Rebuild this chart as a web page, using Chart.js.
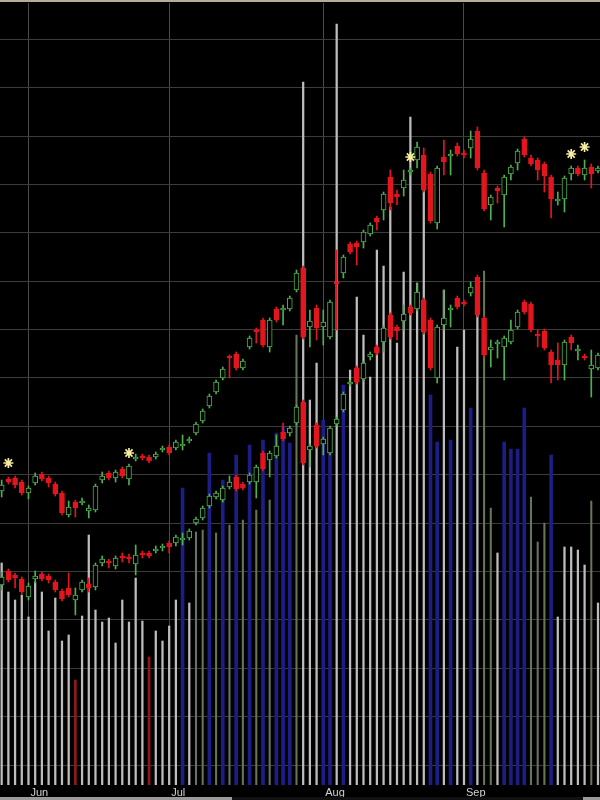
<!DOCTYPE html>
<html><head><meta charset="utf-8">
<script src="https://cdn.jsdelivr.net/npm/chart.js@4/dist/chart.umd.min.js"></script>
<style>
html,body{margin:0;padding:0;background:#000;}
#wrap{position:relative;width:600px;height:800px;background:#000;overflow:hidden;}
#topline{position:absolute;left:0;top:0;width:600px;height:2px;background:#b3ad98;}
#scroll{position:absolute;left:0;top:797px;width:600px;height:3px;background:linear-gradient(to right,#9a9a9a 0,#9a9a9a 232px,#111 232px,#111 583px,#9a9a9a 583px);}
</style></head><body>
<div id="wrap"><canvas id="c" width="600" height="800"></canvas><div id="topline"></div><div id="scroll"></div></div>
<script>
// ---- data (arbitrary price units) ----
const monthTicks  = [4, 25, 48, 69];
const monthLabels = ['Jun', 'Jul', 'Aug', 'Sep'];

const upperOpen = [309,321,322,318,307,317,326,322,316,307, 285,298,297,289,290,320,327,322,331,321,
  341,344,343,343,350,353,352,354,359,367, 379,394,408,422,444,446,432,453,470,480,
  453,491,490,491,510,532,473,492,473,463, 518,527,556,557,558,566,582,590,623,606,
  612,628,640,645,626,577,643,644,654,647, 652,669,627,595,612,605,626,637,661,642,
  640,636,623,599,601,626,632,625,633,629];
const upperClose = [315,318,315,307,312,324,321,317,306,287, 293,292,299,292,314,324,322,328,324,334,
  343,342,339,346,352,347,358,356,361,376, 389,404,418,431,442,432,439,462,468,455,
  480,480,492,502,527,463,479,472,478,498, 516,543,548,553,568,575,578,606,597,603,
  620,630,653,610,579,632,638,646,646,645, 661,632,591,603,609,623,633,649,645,636,
  630,624,601,601,622,632,626,632,626,632];
const upperHigh = [320,323,324,320,314,327,328,324,318,309, 299,300,302,295,316,328,329,330,333,336,
  346,346,345,348,354,355,360,365,363,378, 391,406,420,433,445,448,441,464,472,482,
  482,493,495,504,530,534,490,495,490,500, 550,545,558,559,570,577,584,608,630,610,
  630,632,658,652,628,634,660,650,657,650, 669,673,630,605,614,625,635,651,663,645,
  642,638,625,608,624,634,634,640,636,634];
const upperLow = [303,316,312,305,301,315,319,313,304,285, 283,283,295,282,288,317,320,318,322,315,
  339,340,337,341,348,345,350,350,357,365, 377,392,406,420,422,430,430,451,457,453,
  448,478,475,489,508,461,453,460,455,461, 470,522,546,535,552,564,570,580,590,595,
  604,625,632,608,577,571,625,625,644,642, 642,630,589,580,597,573,620,630,643,634,
  620,608,582,595,588,620,624,620,612,627];

const lowerOpen = [215,229,225,221,203,221,226,224,218,209, 212,200,210,216,213,237,239,234,244,243,
  236,247,247,249,252,257,257,260,262,277, 282,294,303,300,313,323,316,318,318,347,
  340,344,368,367,377,398,350,375,356,347, 376,390,416,432,421,443,453,458,485,473,
  479,493,491,500,480,422,475,490,502,498, 507,523,482,450,456,453,458,473,498,496,
  466,469,448,440,435,463,449,444,431,432];
const lowerClose = [223,220,222,208,214,224,221,220,210,201, 205,205,218,212,235,241,237,242,242,241,
  245,245,244,251,254,253,263,262,269,281, 292,304,307,312,318,311,312,325,333,331,
  347,354,361,372,393,337,354,354,361,372, 381,406,418,418,437,446,447,472,463,469,
  486,487,508,468,432,473,482,492,493,496, 513,485,445,453,458,462,470,488,488,470,
  464,452,435,435,458,457,451,442,435,445];
const lowerHigh = [228,231,227,223,217,229,228,226,220,211, 227,212,220,222,237,244,241,244,247,246,
  255,249,249,254,256,259,265,267,271,283, 294,306,309,314,324,325,318,327,335,349,
  349,365,377,374,395,400,356,377,363,374, 383,408,420,434,439,448,455,474,487,475,
  495,495,517,502,482,475,510,495,504,500, 518,525,484,460,460,464,480,490,500,498,
  470,471,450,457,460,465,455,446,450,447];
const lowerLow = [210,218,212,206,200,217,219,217,208,199, 203,185,208,208,210,234,232,231,238,237,
  225,242,242,247,249,247,254,255,260,275, 280,292,301,298,311,309,310,316,302,329,
  323,342,359,364,375,335,333,352,345,345, 374,388,414,416,419,440,445,448,461,460,
  470,485,489,466,430,417,470,473,491,494, 504,483,443,433,442,420,456,471,486,468,
  453,450,417,420,420,450,440,440,403,430];

const volume = [222,193,185,190,168,203,193,154,187,144, 150,105,169,250,175,163,167,142,185,163,
  207,164,128,154,144,159,185,297,182,253, 255,332,252,305,260,330,265,340,275,345,
  285,352,358,342,450,703,385,422,365,345, 761,400,415,488,450,408,535,519,578,442,
  513,668,502,595,390,343,495,345,438,455, 377,472,514,277,232,343,336,336,377,288,
  243,262,330,168,238,238,235,220,284,182];
const volumeType = ['W','W','W','W','W','W','W','W','W','W', 'W','R','W','W','W','W','W','W','W','W',
  'W','W','R','W','W','W','W','B','W','G', 'G','B','G','B','G','B','G','B','G','B',
  'G','B','B','B','G','W','W','W','B','B', 'W','B','W','W','W','W','W','W','W','W',
  'W','W','W','W','B','B','W','B','W','W', 'B','W','G','G','W','B','B','B','B','G',
  'G','G','B','W','W','W','W','W','G','W'];

const starIndex = [1, 19, 61, 85, 87];
const starValue = [337, 347, 643, 646, 653];

// ---- build datasets ----
const UP = '#4fb04f', DN = '#e3161e';
function candleSets(O, H, L, C) {
  const wick = [], body = [], wc = [], bc = [], bb = [];
  for (let i = 0; i < O.length; i++) {
    const up = C[i] >= O[i];
    wick.push({x: i, y: [L[i], H[i]]});
    body.push({x: i, y: [O[i], C[i]]});
    wc.push(up ? UP : DN);
    bb.push(up ? UP : DN);
    bc.push(up ? '#000' : DN);
  }
  return [
    {type: 'bar', data: wick, backgroundColor: wc, borderWidth: 0, barThickness: 1, order: 5, yAxisID: 'y'},
    {type: 'bar', data: body, backgroundColor: bc, borderColor: bb, borderWidth: 1, barThickness: 5, order: 4, yAxisID: 'y'}
  ];
}
const volStyle = {W: {c: '#bdbdbd', w: 1.6}, B: {c: '#1d1d86', w: 3}, G: {c: '#66765a', w: 1.4}, R: {c: '#8e1b1b', w: 2}};
const volSets = Object.keys(volStyle).map(k => ({
  type: 'bar',
  data: volume.map((v, i) => volumeType[i] === k ? {x: i, y: [0, v]} : null).filter(Boolean),
  backgroundColor: volStyle[k].c, borderWidth: 0, barThickness: volStyle[k].w, order: 10, yAxisID: 'yv'
}));
const starSet = {
  type: 'line', data: starIndex.map((x, k) => ({x: x, y: starValue[k]})), showLine: false,
  pointStyle: 'star', pointRadius: 5, pointBorderColor: '#f6eea0', pointBackgroundColor: '#f6eea0',
  pointBorderWidth: 1.7, order: 0, yAxisID: 'y', clip: false
};

new Chart(document.getElementById('c'), {
  type: 'bar',
  data: {datasets: [...volSets, ...candleSets(upperOpen, upperHigh, upperLow, upperClose),
                    ...candleSets(lowerOpen, lowerHigh, lowerLow, lowerClose), starSet]},
  options: {
    responsive: false, animation: false,
    layout: {autoPadding: false, padding: {top: 3, left: 0, right: 0, bottom: 0}},
    plugins: {legend: {display: false}, tooltip: {enabled: false}},
    datasets: {bar: {grouped: false, borderSkipped: false}},
    scales: {
      x: {
        type: 'linear', min: -0.25, max: 89.3, offset: false,
        afterBuildTicks: s => { s.ticks = monthTicks.map(v => ({value: v})); },
        afterFit: s => { s.height = 15; s.paddingLeft = 0; s.paddingRight = 0; },
        ticks: {callback: (v, idx) => monthLabels[idx], color: '#d2d2d2',
                font: {family: 'Liberation Sans, Arial, sans-serif', size: 11},
                align: 'start', padding: 1, labelOffset: 2, autoSkip: false, maxRotation: 0},
        grid: {color: '#4a4a4a', drawTicks: false, offset: false},
        border: {display: false}
      },
      y: {
        type: 'linear', position: 'left', min: 15, max: 797,
        afterBuildTicks: s => { const t = []; for (let k = 0; k < 16; k++) t.push({value: 35 + 48.38 * k}); s.ticks = t; },
        afterFit: s => { s.width = 0; s.paddingTop = 0; s.paddingBottom = 0; },
        ticks: {display: false},
        grid: {color: '#3c3c3c', drawTicks: false},
        border: {display: false}
      },
      yv: {type: 'linear', display: false, min: 0, max: 782}
    }
  }
});
</script>
</body></html>
